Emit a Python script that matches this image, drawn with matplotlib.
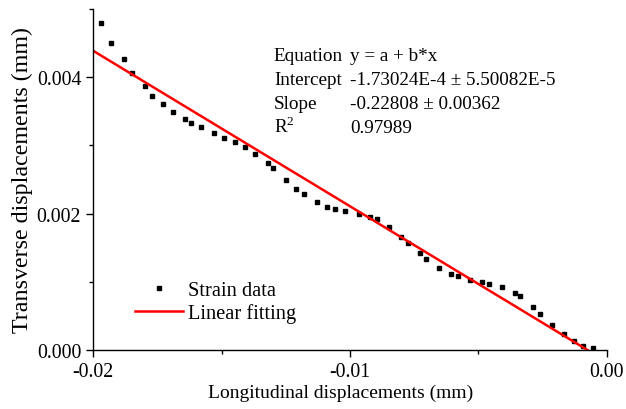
import matplotlib.pyplot as plt
from matplotlib.ticker import MultipleLocator

plt.rcParams['font.family'] = ['Liberation Serif', 'DejaVu Serif']
plt.rcParams['mathtext.fontset'] = 'custom'
plt.rcParams['mathtext.rm'] = 'Liberation Serif'

# strain data
long_disp = [-0.01969, -0.01930, -0.01881, -0.01848, -0.01799, -0.01769, -0.01729,
             -0.01689, -0.01641, -0.01619, -0.01579, -0.01529, -0.01489, -0.01449,
             -0.01410, -0.01370, -0.01319, -0.01300, -0.01248, -0.01209, -0.01179,
             -0.01128, -0.01090, -0.01060, -0.01020, -0.00966, -0.00921, -0.00896,
             -0.00849, -0.00800, -0.00776, -0.00728, -0.00704, -0.00654, -0.00607,
             -0.00581, -0.00532, -0.00485, -0.00460, -0.00410, -0.00359, -0.00337,
             -0.00287, -0.00262, -0.00213, -0.00166, -0.00128, -0.00092, -0.00056]
trans_disp = [0.004790, 0.004500, 0.004260, 0.004059, 0.003872, 0.003731, 0.003603,
              0.003496, 0.003387, 0.003334, 0.003265, 0.003181, 0.003113, 0.003049,
              0.002971, 0.002868, 0.002735, 0.002662, 0.002500, 0.002363, 0.002294,
              0.002166, 0.002093, 0.002069, 0.002040, 0.001996, 0.001951, 0.001916,
              0.001804, 0.001657, 0.001574, 0.001416, 0.001334, 0.001206, 0.001113,
              0.001078, 0.001025, 0.001004, 0.000975, 0.000922, 0.000838, 0.000794,
              0.000628, 0.000534, 0.000372, 0.000231, 0.000132, 0.000063, 0.000025]

# linear fit y = a + b*x
a = -1.73024e-4
b = -0.22808
fit_x = [-0.02, -a / b]
fit_y = [a + b * x for x in fit_x]

fig = plt.figure(figsize=(6.26, 4.10), dpi=100)
ax = fig.add_axes([0.1486, 0.1439, 0.8210, 0.8317])

ax.plot(long_disp, trans_disp, 's', color='black', markersize=3.2, label='Strain data')
ax.plot(fit_x, fit_y, '-', color='#ff0000', linewidth=1.8, label='Linear fitting')

ax.set_xlim(-0.02, 0.0)
ax.set_ylim(0.0, 0.005)
ax.xaxis.set_major_locator(MultipleLocator(0.01))
ax.xaxis.set_minor_locator(MultipleLocator(0.005))
ax.yaxis.set_major_locator(MultipleLocator(0.002))
ax.yaxis.set_minor_locator(MultipleLocator(0.001))
ax.xaxis.set_major_formatter(plt.FuncFormatter(lambda v, p: '%.2f' % v))
ax.yaxis.set_major_formatter(plt.FuncFormatter(lambda v, p: '%.3f' % v))

ax.spines['top'].set_visible(False)
ax.spines['right'].set_visible(False)
for s in ['left', 'bottom']:
    ax.spines[s].set_linewidth(1.0)
ax.tick_params(which='major', direction='out', length=5, width=1.0, labelsize=14.3)
ax.tick_params(which='minor', direction='out', length=3, width=1.0)

ax.set_xlabel('Longitudinal displacements (mm)', fontsize=14, labelpad=4)
ax.xaxis.set_label_coords(0.4825, -0.1)
ax.xaxis.label.set_va('top')
ax.set_ylabel('Transverse displacements (mm)', fontsize=17.3, labelpad=3)

ax.legend(loc='center left', bbox_to_anchor=(0.0817, 0.141), frameon=False, fontsize=14.7,
          handlelength=2.35, handletextpad=0.26, labelspacing=0.12, borderpad=0,
          borderaxespad=0)

# fit statistics
names = ['Equation', 'Intercept', 'Slope', r'R$^2$']
vals = ['y = a + b*x', '-1.73024E-4 \u00b1 5.50082E-5', '-0.22808 \u00b1 0.00362', '0.97989']
for i in range(len(names)):
    yy = (351 - 61 - i * 24) / 341.0
    ax.text(0.352, yy, names[i], transform=ax.transAxes, fontsize=13.75, va='baseline')
    ax.text(0.5, yy, vals[i], transform=ax.transAxes, fontsize=13.75, va='baseline')

fig.savefig('out.png', dpi=100)
